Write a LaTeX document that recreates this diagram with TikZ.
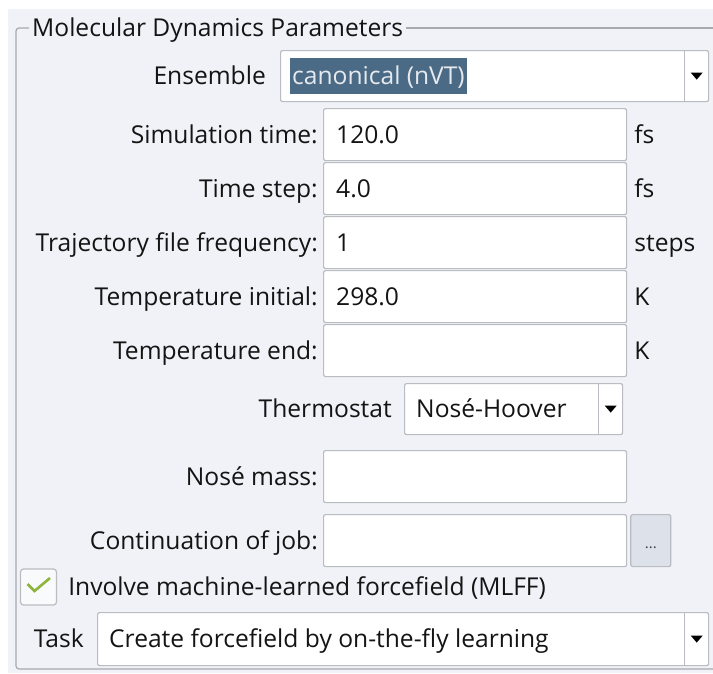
\documentclass[tikz,border=0pt]{standalone}
\usepackage{fontspec}
\setmainfont{Open Sans}
\usepackage{tikz}
\usetikzlibrary{positioning}

\definecolor{panelbg}{HTML}{F0F2F7}
\definecolor{frameline}{HTML}{A6A9AD}
\definecolor{fieldline}{HTML}{B9BCC0}
\definecolor{ink}{HTML}{141414}
\definecolor{selbg}{HTML}{4B6A86}
\definecolor{seltext}{HTML}{E6EAEE}
\definecolor{btnfill}{HTML}{DDE1EA}
\definecolor{checkgreen}{HTML}{8DB43B}

\begin{document}
\begin{tikzpicture}[
x=1pt, y=-1pt,
every node/.style={
inner sep=0pt,
font=\fontsize{24.6pt}{28pt}\selectfont,
text=ink
},
lbl/.style={text height=17pt, text depth=0pt},
field/.style={
draw=fieldline,
fill=white,
line width=1.2pt,
rounded corners=2pt,
anchor=north west,
minimum width=303pt,
minimum height=52pt
},
combo/.style={field, minimum height=51pt},
dropbtn/.style={draw=fieldline, line width=1.2pt},
tri/.style={fill=black}
]

\useasboundingbox (0,0) rectangle (713,673);
\fill[white] (0,0) rectangle (713,673);
\fill[panelbg] (8,9) rectangle (713,673);

% group frame
\node[lbl, anchor=west] (title) at (32,28) {Molecular Dynamics Parameters};
\draw[frameline, line width=1.2pt, rounded corners=3pt]
  ([xshift=-3pt]title.west) -- (16,28) -- (16,669) -- (713,669);
\draw[frameline, line width=1.2pt] ([xshift=3pt]title.east) -- (713,28);

% ensemble
\node[combo, minimum width=428pt] (ensemble) at (280,50) {};
\draw[dropbtn] ([xshift=-25pt]ensemble.north east) -- ([xshift=-25pt]ensemble.south east);
\coordinate (ensarrow) at ([xshift=-12.5pt]ensemble.east);
\fill[tri] ([xshift=-6pt,yshift=3.5pt]ensarrow) -- ++(12pt,0pt) -- ++(-6pt,-7pt) -- cycle;
\node[lbl, left=14pt of ensemble] (enslabel) {Ensemble};
\node[lbl, fill=selbg, text=seltext, inner xsep=2pt, minimum height=36pt,
  right=10pt of ensemble.west] (ensvalue) {canonical (nVT)};

% simulation time
\node[field] (simtime) at (323,108) {};
\node[lbl, left=5pt of simtime] (simlabel) {Simulation time:};
\node[lbl, right=13pt of simtime.west] (simvalue) {120.0};
\node[lbl, right=7pt of simtime] (simunit) {fs};

% time step
\node[field] (timestep) at (323,162) {};
\node[lbl, left=5pt of timestep] (steplabel) {Time step:};
\node[lbl, right=13pt of timestep.west] (stepvalue) {4.0};
\node[lbl, right=7pt of timestep] (stepunit) {fs};

% trajectory
\node[field] (trajfreq) at (323,216) {};
\node[lbl, left=5pt of trajfreq] (trajlabel) {Trajectory file frequency:};
\node[lbl, right=13pt of trajfreq.west] (trajvalue) {1};
\node[lbl, right=7pt of trajfreq] (trajunit) {steps};

% temperatures
\node[field] (tempinit) at (323,270) {};
\node[lbl, left=5pt of tempinit] (tinitlabel) {Temperature initial:};
\node[lbl, right=13pt of tempinit.west] (tinitvalue) {298.0};
\node[lbl, right=7pt of tempinit] (tinitunit) {K};

\node[field] (tempend) at (323,324) {};
\node[lbl, left=5pt of tempend] (tendlabel) {Temperature end:};
\node[lbl, right=7pt of tempend] (tendunit) {K};

% thermostat
\node[combo, minimum width=218pt] (thermo) at (404,383) {};
\draw[dropbtn] ([xshift=-25pt]thermo.north east) -- ([xshift=-25pt]thermo.south east);
\coordinate (thermoarrow) at ([xshift=-12.5pt]thermo.east);
\fill[tri] ([xshift=-6pt,yshift=3.5pt]thermoarrow) -- ++(12pt,0pt) -- ++(-6pt,-7pt) -- cycle;
\node[lbl, left=12pt of thermo] (thermolabel) {Thermostat};
\node[lbl, right=12pt of thermo.west] (thermovalue) {Nosé-Hoover};

% nose mass
\node[field] (nosemass) at (323,450) {};
\node[lbl, left=5pt of nosemass] (noselabel) {Nosé mass:};

% continuation
\node[field] (contjob) at (323,514) {};
\node[lbl, left=5pt of contjob] (contlabel) {Continuation of job:};
\node[draw=fieldline, fill=btnfill, line width=1.2pt, rounded corners=2pt,
  minimum width=40pt, minimum height=52pt, right=3pt of contjob] (browse) {};
\node[font=\fontsize{15pt}{18pt}\selectfont, text height=15pt, text depth=0pt,
  text=ink!80] (browsedots) at (browse) {...};

% mlff checkbox
\node[draw=fieldline, fill=white!60!panelbg, line width=1.2pt, rounded corners=3pt,
  minimum width=36pt, minimum height=36pt] (mlffbox) at (38.5,587) {};
\draw[checkgreen, line width=2.6pt]
  ([shift={(-11pt,3pt)}]mlffbox.center) -- ([shift={(-4pt,-4pt)}]mlffbox.center)
  -- ([shift={(11.5pt,9pt)}]mlffbox.center);
\node[lbl, right=11pt of mlffbox] (mlfflabel) {Involve machine-learned forcefield (MLFF)};

% task
\node[combo, minimum width=611pt, minimum height=53pt] (task) at (97,612) {};
\draw[dropbtn] ([xshift=-25pt]task.north east) -- ([xshift=-25pt]task.south east);
\coordinate (taskarrow) at ([xshift=-12.5pt]task.east);
\fill[tri] ([xshift=-6pt,yshift=3.5pt]taskarrow) -- ++(12pt,0pt) -- ++(-6pt,-7pt) -- cycle;
\node[lbl, left=13pt of task] (tasklabel) {Task};
\node[lbl, right=12pt of task.west] (taskvalue) {Create forcefield by on-the-fly learning};

\end{tikzpicture}
\end{document}
